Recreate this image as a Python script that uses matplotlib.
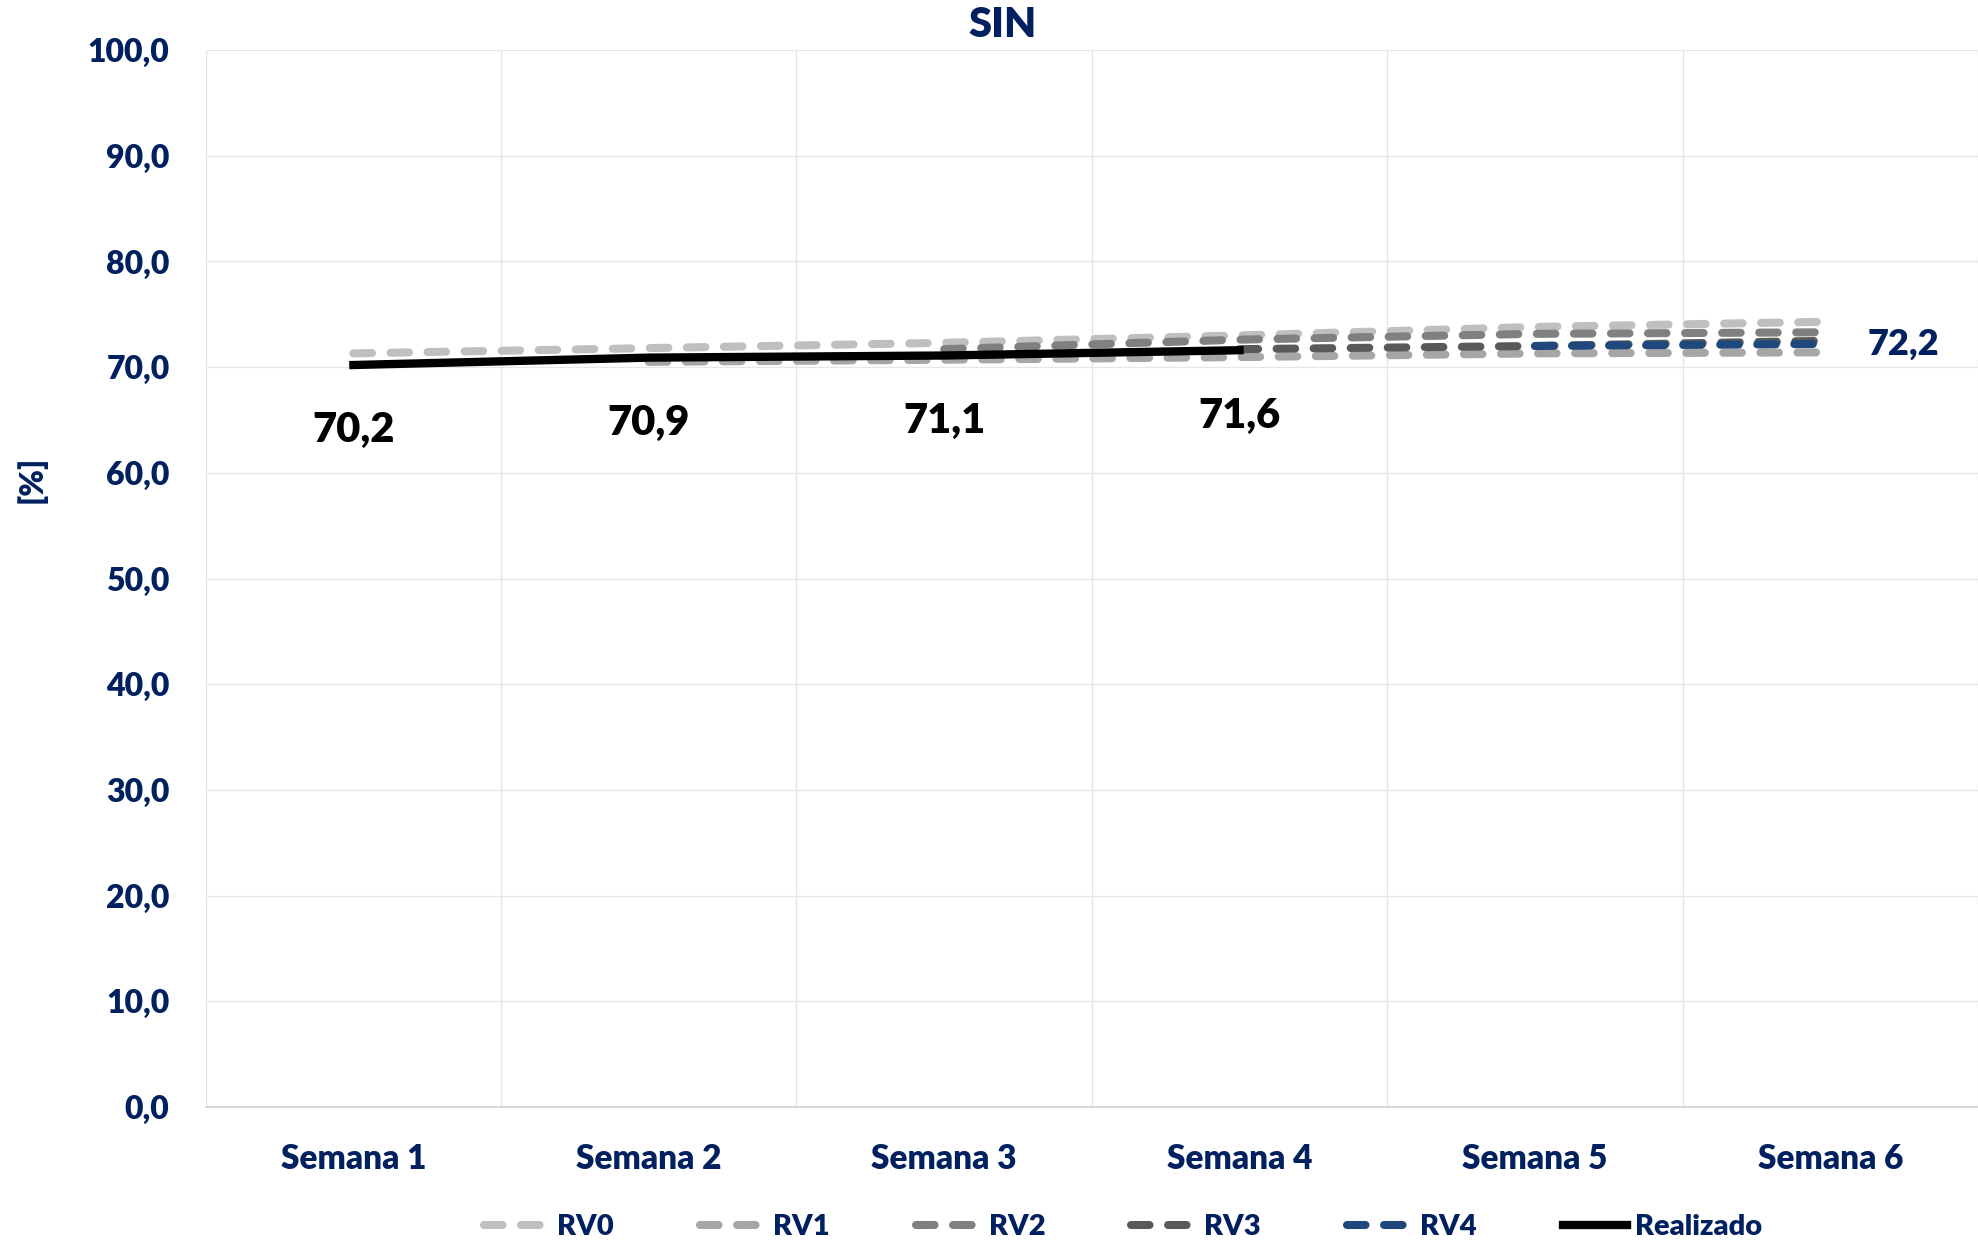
import matplotlib
matplotlib.use("Agg")
import matplotlib.pyplot as plt
import numpy as np

categories = ["Semana 1", "Semana 2", "Semana 3", "Semana 4", "Semana 5", "Semana 6"]
rv0 = [71.3, 71.8, 72.3, 73.0, 73.8, 74.3]
rv1 = [np.nan, 70.5, 70.7, 70.95, 71.3, 71.4]
rv2 = [np.nan, np.nan, 71.7, 72.6, 73.15, 73.3]
rv3 = [np.nan, np.nan, np.nan, 71.7, 72.0, 72.5]
rv4 = [np.nan, np.nan, np.nan, np.nan, 72.0, 72.2]
realizado = [70.2, 70.9, 71.1, 71.6]
yticks = [0, 10, 20, 30, 40, 50, 60, 70, 80, 90, 100]

NAVY = "#002060"
W = "heavy"
plt.rcParams['font.family'] = ['Lato', 'DejaVu Sans']
plt.rcParams['font.weight'] = W

fig = plt.figure(figsize=(19.78, 12.42), dpi=100)
ax = fig.add_axes([0.104, 0.1087, 0.896, 0.851])

x = np.arange(len(categories))
series = [("RV0", rv0, "#BFBFBF"), ("RV1", rv1, "#A6A6A6"), ("RV2", rv2, "#808080"),
          ("RV3", rv3, "#595959"), ("RV4", rv4, "#1F497D")]
handles = []
for name, vals, col in series:
    ln, = ax.plot(x, vals, color=col, lw=5.8, dashes=(2.3, 2.3),
                  dash_capstyle='round', solid_capstyle='butt', label=name)
    handles.append(ln)
xr = np.arange(len(realizado))
ln, = ax.plot(xr, realizado, color="black", lw=6, solid_capstyle='projecting', label="Realizado")
handles.append(ln)

for xi, v in zip(xr, realizado):
    ax.annotate(f"{v:.1f}".replace(".", ","), (xi, v), xytext=(0, -47),
                textcoords="offset points", ha="center", va="center",
                fontsize=30, fontweight=W, color="black")
last = rv4[-1]
ax.annotate(f"{last:.1f}".replace(".", ","), (x[-1], last), xytext=(27, 0),
            textcoords="offset points", ha="left", va="center",
            fontsize=26, fontweight=W, color=NAVY)

ax.set_xlim(-0.5, 5.5)
ax.set_ylim(0, 100)
ax.set_yticks(yticks)
ax.set_yticklabels([f"{t:.1f}".replace(".", ",") for t in yticks])
ax.set_xticks(x)
ax.set_xticklabels(categories)
ax.set_xticks(np.arange(-0.5, 6.0, 1.0), minor=True)
ax.tick_params(axis='x', which='both', length=0, pad=26, labelsize=24, labelcolor=NAVY)
ax.tick_params(axis='y', length=0, pad=26, labelsize=23, labelcolor=NAVY)
for lab in ax.get_xticklabels() + ax.get_yticklabels():
    lab.set_fontweight(W)
ax.grid(axis='y', color="#E6E6E6", lw=1)
ax.grid(axis='x', which='minor', color="#E6E6E6", lw=1)
ax.grid(axis='x', which='major', visible=False)
ax.set_axisbelow(True)
for s in ["top", "right", "left"]:
    ax.spines[s].set_visible(False)
ax.spines["bottom"].set_color("#D0D0D0")
ax.spines["bottom"].set_linewidth(1.2)

fig.text(0.507, 0.980, "SIN", ha="center", va="center", fontsize=30,
         fontweight=W, color=NAVY)
fig.text(0.016, 0.614, "[%]", ha="center", va="center", rotation=90,
         fontsize=23, fontweight=W, color=NAVY)

leg = fig.legend(handles=handles, loc="center", bbox_to_anchor=(0.568, 0.012),
                 ncol=6, frameon=False, fontsize=21, handlelength=2.2,
                 handletextpad=0.3, columnspacing=2.95)
for t in leg.get_texts():
    t.set_color(NAVY)
    t.set_fontweight(W)

fig.savefig("out.png", dpi=100)
